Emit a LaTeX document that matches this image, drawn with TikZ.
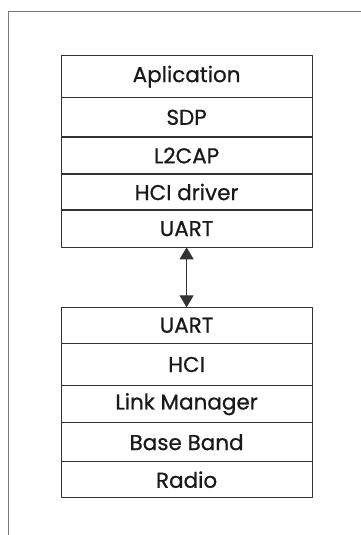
\documentclass[tikz,border=0pt]{standalone}
\usepackage{fontspec}
\setmainfont{Poppins}
\newfontfamily\layerfont[FakeBold=0.7]{Poppins}
\usetikzlibrary{positioning}
\usetikzlibrary{arrows.meta}

\definecolor{framegray}{HTML}{777777}
\definecolor{linegray}{HTML}{333333}

\tikzset{
  layer/.style={draw=linegray, line width=1.2pt, rectangle, minimum width=251pt,
    inner sep=0pt, outer sep=0pt, font=\layerfont\fontsize{21.5}{24}\selectfont, text=black!90},
}

\begin{document}
\begin{tikzpicture}[x=1pt, y=-1pt, line cap=round, line join=round]
  \useasboundingbox (0,0) rectangle (361,535);
  %--- Frame
    \draw[framegray, line width=1pt] (8, 535) -- (8, 11.5) -- (361, 11.5);
  %--- Host stack
    \node[layer, minimum height=42pt, anchor=north] (app) at (186.6, 55.7) {Aplication};
    \node[layer, minimum height=39.3pt, below=0pt of app] (sdp) {SDP};
    \node[layer, minimum height=37pt, below=0pt of sdp] (l2cap) {L2CAP};
    \node[layer, minimum height=36pt, below=0pt of l2cap] (hcidrv) {HCI driver};
    \node[layer, minimum height=37.3pt, below=0pt of hcidrv] (uarthost) {UART};
  %--- Module stack
    \node[layer, minimum height=36pt, anchor=north] (uartmod) at (186.6, 307.3) {UART};
    \node[layer, minimum height=42.4pt, below=0pt of uartmod] (hci) {HCI};
    \node[layer, minimum height=37pt, below=0pt of hci] (lm) {Link Manager};
    \node[layer, minimum height=39pt, below=0pt of lm] (bb) {Base Band};
    \node[layer, minimum height=36pt, below=0pt of bb] (radio) {Radio};
  %--- Link
    \draw[linegray, line width=1pt, {Triangle[width=14pt, length=12pt]}-{Triangle[width=14pt, length=12pt]}]
      (uarthost.south) -- (uartmod.north);
\end{tikzpicture}
\end{document}
